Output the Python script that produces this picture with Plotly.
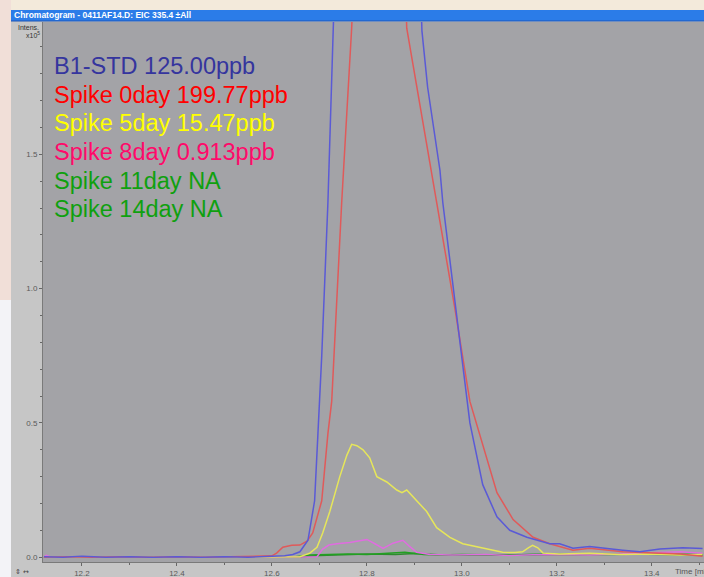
import plotly.graph_objects as go

# ---- data (intensity in units of 1e5, time in min) ----
blue_t = [12.12, 12.16, 12.2, 12.25, 12.3, 12.35, 12.4, 12.45, 12.5, 12.55, 12.6, 12.627, 12.644, 12.659,
          12.676, 12.69, 12.697, 12.705, 12.718, 12.728, 12.735, 12.74, 12.90, 12.91, 12.916, 12.928, 12.954,
          12.96, 12.985, 13.003, 13.017, 13.044, 13.074, 13.101, 13.137, 13.185, 13.206, 13.234, 13.269, 13.3,
          13.339, 13.375, 13.417, 13.465, 13.507]
blue_v = [0.002, 0.0, 0.003, 0.0, 0.002, 0.0, 0.002, 0.0, 0.002, 0.0, 0.003, 0.005, 0.01, 0.02,
          0.063, 0.21, 0.46, 0.75, 1.32, 1.97, 2.3, 2.6, 2.6, 2.3, 1.96, 1.75, 1.44,
          1.32, 0.95, 0.7, 0.5, 0.27, 0.15, 0.10, 0.074, 0.05, 0.05, 0.033, 0.04, 0.035,
          0.026, 0.02, 0.03, 0.035, 0.032]

red_t = [12.12, 12.17, 12.22, 12.28, 12.34, 12.4, 12.46, 12.52, 12.57, 12.6, 12.61, 12.623, 12.642, 12.659,
         12.674, 12.686, 12.705, 12.718, 12.726, 12.747, 12.768, 12.776, 12.78, 12.87, 12.878, 12.884, 12.947,
         12.985, 13.017, 13.044, 13.074, 13.108, 13.15, 13.185, 13.234, 13.269, 13.339, 13.42, 13.46, 13.507]
red_v = [0.0, 0.002, 0.0, 0.002, 0.0, 0.002, 0.0, 0.002, 0.003, 0.005, 0.015, 0.037, 0.044, 0.045,
         0.06, 0.09, 0.21, 0.46, 0.58, 1.32, 1.97, 2.3, 2.5, 2.5, 2.3, 1.97, 1.32,
         0.93, 0.58, 0.42, 0.24, 0.14, 0.074, 0.05, 0.026, 0.033, 0.02, 0.015, 0.012, 0.003]

yellow_t = [12.12, 12.2, 12.3, 12.4, 12.5, 12.6, 12.659, 12.68, 12.695, 12.707, 12.722, 12.743, 12.758, 12.768,
            12.779, 12.792, 12.806, 12.821, 12.832, 12.842, 12.863, 12.874, 12.884, 12.895, 12.905, 12.926,
            12.947, 12.975, 13.002, 13.044, 13.086, 13.112, 13.128, 13.14, 13.149, 13.16, 13.171, 13.206,
            13.269, 13.333, 13.396, 13.459, 13.507]
yellow_v = [0.0, 0.001, 0.0, 0.001, 0.0, 0.001, 0.002, 0.015, 0.037, 0.09, 0.17, 0.30, 0.38, 0.42,
            0.415, 0.40, 0.37, 0.30, 0.29, 0.28, 0.25, 0.24, 0.25, 0.23, 0.21, 0.17,
            0.11, 0.074, 0.05, 0.033, 0.018, 0.017, 0.02, 0.035, 0.044, 0.035, 0.015, 0.012,
            0.015, 0.01, 0.012, 0.008, 0.01]

magenta_t = [12.12, 12.125, 12.135, 12.2, 12.3, 12.4, 12.5, 12.6, 12.695, 12.707, 12.72, 12.737, 12.764,
             12.785, 12.8, 12.817, 12.834, 12.855, 12.876, 12.89, 12.905, 12.933, 12.98, 13.05, 13.1, 13.15,
             13.2, 13.269, 13.33, 13.4, 13.46, 13.507]
magenta_v = [0.0, 0.007, 0.0, 0.001, 0.0, 0.001, 0.0, 0.001, 0.002, 0.03, 0.045, 0.05, 0.055,
             0.06, 0.066, 0.05, 0.033, 0.052, 0.063, 0.04, 0.018, 0.01, 0.008, 0.01, 0.006, 0.009,
             0.01, 0.008, 0.012, 0.015, 0.02, 0.015]

green11_t = [12.12, 12.3, 12.5, 12.65, 12.68, 12.72, 12.76, 12.8, 12.85, 12.88, 12.92, 12.95, 13.0, 13.1,
             13.2, 13.3, 13.4, 13.507]
green11_v = [0.0, 0.001, 0.0, 0.002, 0.008, 0.01, 0.012, 0.01, 0.015, 0.018, 0.01, 0.008, 0.01, 0.008,
             0.012, 0.01, 0.012, 0.01]

green14_t = [12.12, 12.3, 12.5, 12.66, 12.7, 12.75, 12.8, 12.86, 12.9, 12.95, 13.05, 13.15, 13.25, 13.35,
             13.45, 13.507]
green14_v = [0.0, 0.0, 0.001, 0.002, 0.006, 0.009, 0.012, 0.01, 0.014, 0.009, 0.007, 0.01, 0.009, 0.012,
             0.011, 0.008]

legend_labels = ["B1-STD 125.00ppb", "Spike 0day 199.77ppb", "Spike 5day 15.47ppb",
                 "Spike 8day 0.913ppb", "Spike 11day NA", "Spike 14day NA"]
x_ticks = [12.2, 12.4, 12.6, 12.8, 13.0, 13.2, 13.4]
y_ticks = [0.0, 0.5, 1.0, 1.5]
title_text = "Chromatogram - 0411AF14.D: EIC 335.4 ±All"

# ---- figure ----
W, H = 704, 577
L, T, B = 43, 22, 15
PW, PH = W - L, H - T - B


def px(x):
    return (x - L) / PW


def py(y):
    return (H - B - y) / PH


fig = go.Figure()
series = [
    (green14_t, green14_v, "#2f8a2f"),
    (green11_t, green11_v, "#22a022"),
    (magenta_t, magenta_v, "#e06ce0"),
    (yellow_t, yellow_v, "#e6e65a"),
    (red_t, red_v, "#e05a5a"),
    (blue_t, blue_v, "#5a5ad6"),
]
for t, v, c in series:
    fig.add_trace(go.Scatter(x=t, y=v, mode="lines", line=dict(color=c, width=1.5),
                             showlegend=False, hoverinfo="skip"))

axis_font = dict(family="Arial, Liberation Sans", size=8, color="#5a5a5a")
fig.update_xaxes(range=[12.118, 13.51], tickvals=x_ticks, ticktext=[f"{v:.1f}" for v in x_ticks],
                 ticks="outside", ticklen=3, tickcolor="#666", tickfont=axis_font,
                 showline=True, linecolor="#7a7a7a", linewidth=1, showgrid=False, zeroline=False,
                 minor=dict(dtick=0.1, tick0=12.1, ticks="outside", ticklen=2, tickcolor="#666"))
fig.update_yaxes(range=[-0.018, 1.993], tickvals=y_ticks, ticktext=[f"{v:.1f}" for v in y_ticks],
                 ticks="outside", ticklen=3, tickcolor="#666", tickfont=axis_font,
                 showline=True, linecolor="#7a7a7a", linewidth=1, showgrid=False, zeroline=False,
                 minor=dict(dtick=0.1, tick0=0, ticks="outside", ticklen=2, tickcolor="#666"))

text_colors = ["#35359e", "#ff0000", "#ffff00", "#ff0a6a", "#0fa00f", "#0fa00f"]
line_y = [66, 95, 123, 152, 181, 209]
annotations = []
for lab, col, yy in zip(legend_labels, text_colors, line_y):
    annotations.append(dict(text=lab, x=px(52), y=py(yy), xref="paper", yref="paper",
                            xanchor="left", yanchor="middle", showarrow=False,
                            font=dict(family="Arial, Liberation Sans", size=23.5, color=col)))

annotations += [
    dict(text=f"<b>{title_text}</b>", x=px(12), y=py(15.5), xref="paper", yref="paper",
         xanchor="left", yanchor="middle", showarrow=False,
         font=dict(family="Arial, Liberation Sans", size=8.5, color="white")),
    dict(text="Intens.", x=px(41), y=py(27), xref="paper", yref="paper",
         xanchor="right", yanchor="middle", showarrow=False,
         font=dict(family="Arial, Liberation Sans", size=7, color="#333")),
    dict(text="x10<sup>5</sup>", x=px(42), y=py(35), xref="paper", yref="paper",
         xanchor="right", yanchor="middle", showarrow=False,
         font=dict(family="Arial, Liberation Sans", size=7, color="#333")),
    dict(text="Time [min]", x=px(673), y=py(571), xref="paper", yref="paper",
         xanchor="left", yanchor="middle", showarrow=False,
         font=dict(family="Arial, Liberation Sans", size=8, color="#555")),
    dict(text="⇕ ↔", x=px(13), y=py(572), xref="paper", yref="paper",
         xanchor="left", yanchor="middle", showarrow=False,
         font=dict(family="DejaVu Sans", size=7, color="#444")),
]

shapes = [
    # cream strip above the window
    dict(type="rect", xref="paper", yref="paper", x0=px(0), x1=px(W), y0=py(10), y1=py(0),
         fillcolor="#f3eadb", line_width=0, layer="above"),
    # blurred background to the left of the window
    dict(type="rect", xref="paper", yref="paper", x0=px(0), x1=px(11), y0=py(300), y1=py(0),
         fillcolor="#f1dfd8", line_width=0, layer="above"),
    dict(type="rect", xref="paper", yref="paper", x0=px(0), x1=px(11), y0=py(H), y1=py(300),
         fillcolor="#f3f3f7", line_width=0, layer="above"),
    # title bar
    dict(type="rect", xref="paper", yref="paper", x0=px(11), x1=px(W), y0=py(21), y1=py(10),
         fillcolor="#2b7ce8", line_width=0, layer="above"),
    dict(type="line", xref="paper", yref="paper", x0=px(11), x1=px(W), y0=py(21), y1=py(21),
         line=dict(color="#1a55b8", width=1), layer="above"),
]

fig.update_layout(
    width=W, height=H,
    margin=dict(l=L, r=0, t=T, b=B, pad=0),
    paper_bgcolor="#c6c6c6",
    plot_bgcolor="#a3a3a7",
    annotations=annotations,
    shapes=shapes,
    showlegend=False,
)

fig.write_html("out.html")
